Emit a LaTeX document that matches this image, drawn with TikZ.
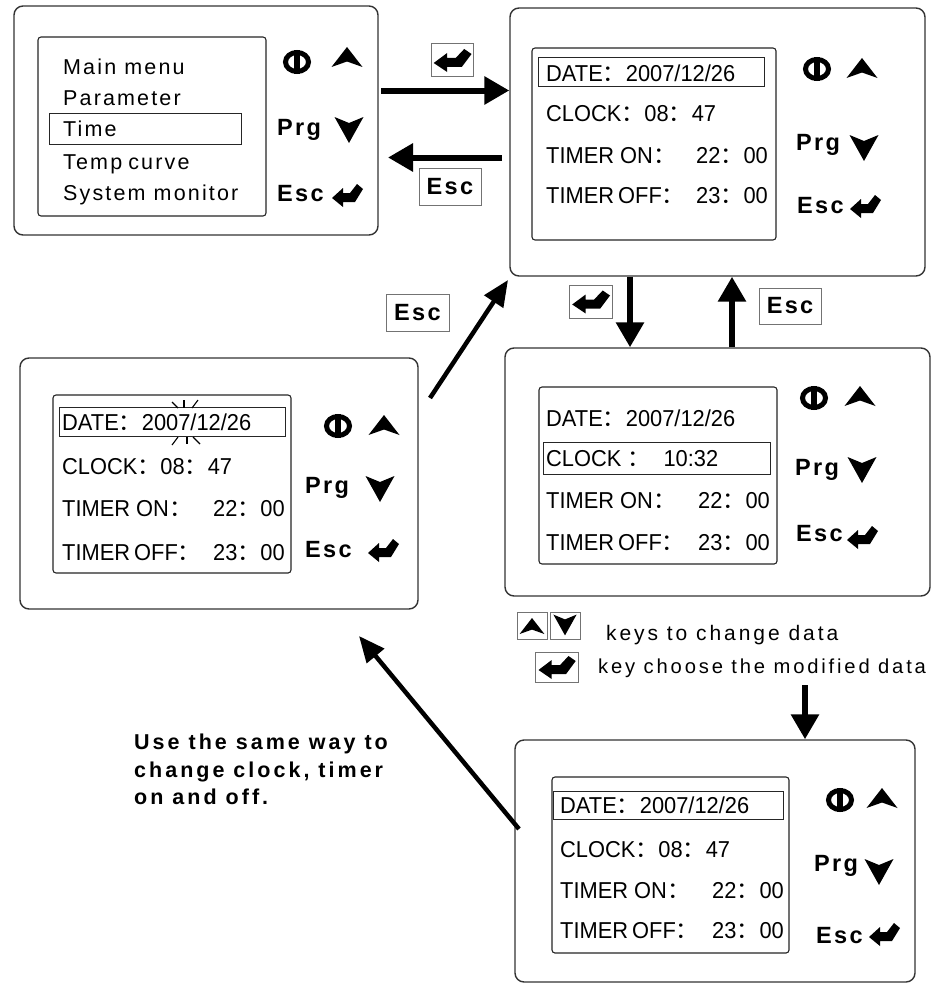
\documentclass[tikz,border=0pt]{standalone}
\usepackage{fontspec}
\setmainfont{Liberation Sans}
\newfontfamily\spfont[LetterSpace=10]{Liberation Sans}
\newfontfamily\spfontb[LetterSpace=14]{Liberation Sans}
\newfontfamily\scrfont[FakeStretch=0.95]{Liberation Sans}
\newfontfamily\cjk{Noto Sans CJK SC}
\usetikzlibrary{arrows.meta}
\newcommand{\fcolon}{{\cjk ：}}
\tikzset{
 powicon/.pic={\draw[line width=5pt] (0,0) ellipse[x radius=11.5, y radius=9.5];
   \fill (-3.2,-12) rectangle (3.2,12);},
 upicon/.pic={\fill (0,-10) -- (15.5,10) -- (0,4.5) -- (-15.5,10) -- cycle;},
 dnicon/.pic={\fill (0,13) -- (14.5,-13) -- (0,-7) -- (-14.5,-13) -- cycle;},
 enticon/.pic={\fill (-15,2) -- (-4,-8) -- (-4,-3) -- (3,-3) -- (10,-12) -- (16,-7)
   -- (8,6) -- (-4,6) -- (-4,11) -- cycle;},
}
\begin{document}
\begin{tikzpicture}[x=1pt,y=-1pt,
 panel/.style={draw=black!80, line width=1.4pt, rounded corners=9pt, inner sep=0pt},
 screen/.style={draw=black!85, line width=1.1pt, rounded corners=3pt, inner sep=0pt},
 hbox/.style={draw=black!85, line width=1pt, inner sep=0pt},
 keybox/.style={draw=black!55, line width=1pt, inner sep=0pt, fill=white},
 tone/.style={font=\spfont\fontsize{21.5}{23}\selectfont, inner sep=0pt, anchor=base west},
 tleg/.style={font=\spfontb\fontsize{21}{23}\selectfont, inner sep=0pt, anchor=base west},
 tscr/.style={font=\scrfont\fontsize{23}{25}\selectfont, inner sep=0pt, anchor=base west},
 tscrr/.style={tscr, anchor=base east},
 klbl/.style={font=\spfont\bfseries\fontsize{23.5}{25}\selectfont, inner sep=0pt, anchor=base west},
 kesc/.style={keybox, font=\spfont\bfseries\fontsize{23.5}{25}\selectfont},
 note/.style={font=\spfontb\bfseries\fontsize{21.5}{23}\selectfont, inner sep=0pt, anchor=base west},
 bigarrow/.style={line width=6pt, -{Triangle[length=25pt,width=27pt]}},
 thinarrow/.style={line width=4.5pt, -{Triangle[length=26pt,width=22pt]}},
 spark/.style={line width=1.1pt},
]
\useasboundingbox[fill=white] (0,0) rectangle (937,990);

% ---------- Panel 1 ----------
\node[panel, minimum width=364pt, minimum height=229pt] (p1) at (196,120.5) {};
\node[screen, minimum width=228pt, minimum height=179pt] (s1) at (152,126.5) {};
\node[hbox, minimum width=192pt, minimum height=31pt] (h1) at (145,128.5) {};
\node[tone] (m1) at (63,74.5) {Main menu};
\node[tone] (m2) at (63,105.5) {Parameter};
\node[tone] (m3) at (63,136.5) {Time};
\node[tone] (m4) at (63,169.5) {Temp\kern-2pt\ curve};
\node[tone] (m5) at (63,200.5) {System monitor};
\pic at (297,62) {powicon};
\pic at (347,57) {upicon};
\node[klbl] (prg1) at (277,135) {Prg};
\pic at (349,130) {dnicon};
\node[klbl] (esc1) at (277,201) {Esc};
\pic at (347,196) {enticon};

% ---------- Panel 2 ----------
\node[panel, minimum width=415pt, minimum height=268pt] (p2) at (717.5,142) {};
\node[screen, minimum width=244pt, minimum height=192pt] (s2) at (654,144) {};
\node[hbox, minimum width=226pt, minimum height=28pt] (h2) at (651,72) {};
\node[tscr] (d2) at (546,81.5) {DATE\fcolon 2007/12/26};
\node[tscr] (c2) at (546,121.5) {CLOCK\fcolon 08\fcolon 47};
\node[tscr] (on2) at (546,163.5) {TIMER ON\fcolon};
\node[tscrr] (on2v) at (768,163.5) {22\fcolon 00};
\node[tscr] (off2) at (546,203.5) {TIMER\kern4pt OFF\fcolon};
\node[tscrr] (off2v) at (768,203.5) {23\fcolon 00};
\pic at (817,69) {powicon};
\pic at (862,68) {upicon};
\node[klbl] (prg2) at (796,150) {Prg};
\pic at (864,148) {dnicon};
\node[klbl] (esc2) at (797,213) {Esc};
\pic at (865,207) {enticon};

% ---------- Panel 3 ----------
\node[panel, minimum width=425pt, minimum height=248pt] (p3) at (717.5,472) {};
\node[screen, minimum width=238pt, minimum height=177pt] (s3) at (658,475.5) {};
\node[hbox, minimum width=227pt, minimum height=32pt] (h3) at (656.5,458) {};
\node[tscr] (d3) at (546,426.5) {DATE\fcolon 2007/12/26};
\node[tscr] (c3) at (546,466.5) {CLOCK \fcolon\kern13pt 10:32};
\node[tscr] (on3) at (546,508.5) {TIMER ON\fcolon};
\node[tscrr] (on3v) at (770,508.5) {22\fcolon 00};
\node[tscr] (off3) at (546,550.5) {TIMER\kern4pt OFF\fcolon};
\node[tscrr] (off3v) at (770,550.5) {23\fcolon 00};
\pic at (814,398) {powicon};
\pic at (860,396) {upicon};
\node[klbl] (prg3) at (795,475) {Prg};
\pic at (862,470) {dnicon};
\node[klbl] (esc3) at (796,541) {Esc};
\pic at (862,538) {enticon};

% ---------- Panel 4 ----------
\node[panel, minimum width=398pt, minimum height=251pt] (p4) at (219,483.5) {};
\node[screen, minimum width=238pt, minimum height=178pt] (s4) at (172,484) {};
\node[hbox, minimum width=226pt, minimum height=29pt] (h4) at (172,421.5) {};
\node[tscr] (d4) at (62,430.5) {DATE\fcolon 2007/12/26};
\node[tscr] (c4) at (62,474.5) {CLOCK\fcolon 08\fcolon 47};
\node[tscr] (on4) at (62,516.5) {TIMER ON\fcolon};
\node[tscrr] (on4v) at (285,516.5) {22\fcolon 00};
\node[tscr] (off4) at (62,560.5) {TIMER\kern4pt OFF\fcolon};
\node[tscrr] (off4v) at (285,560.5) {23\fcolon 00};
\draw[spark] (172,402) -- (178,408);
\draw[spark] (184,400) -- (184,408);
\draw[spark] (198,400) -- (192,408);
\draw[spark] (172,445) -- (178,437);
\draw[spark] (187,437) -- (187,444);
\draw[spark] (193,437) -- (200,444);
\pic at (338,426) {powicon};
\pic at (384,425) {upicon};
\node[klbl] (prg4) at (305,493) {Prg};
\pic at (380,489) {dnicon};
\node[klbl] (esc4) at (305,557) {Esc};
\pic at (383,551) {enticon};

% ---------- Panel 5 ----------
\node[panel, minimum width=400pt, minimum height=242pt] (p5) at (715,861) {};
\node[screen, minimum width=237pt, minimum height=176pt] (s5) at (670.5,865) {};
\node[hbox, minimum width=230pt, minimum height=28pt] (h5) at (668,805) {};
\node[tscr] (d5) at (560,813.5) {DATE\fcolon 2007/12/26};
\node[tscr] (c5) at (560,857.5) {CLOCK\fcolon 08\fcolon 47};
\node[tscr] (on5) at (560,898.5) {TIMER ON\fcolon};
\node[tscrr] (on5v) at (784,898.5) {22\fcolon 00};
\node[tscr] (off5) at (560,938.5) {TIMER\kern4pt OFF\fcolon};
\node[tscrr] (off5v) at (784,938.5) {23\fcolon 00};
\pic at (840,800) {powicon};
\pic at (882,798) {upicon};
\node[klbl] (prg5) at (814,871) {Prg};
\pic at (879,872) {dnicon};
\node[klbl] (esc5) at (816,943) {Esc};
\pic at (884,935) {enticon};

% ---------- Key boxes ----------
\node[keybox, minimum width=42pt, minimum height=32pt] (k1) at (452,60) {};
\pic[xscale=1.22] at (452,61) {enticon};
\node[kesc, minimum width=62pt, minimum height=37pt] (k2) at (450,186.5) {Esc};
\node[keybox, minimum width=43pt, minimum height=33pt] (k3) at (590.5,301.5) {};
\pic[xscale=1.22] at (590.5,302.5) {enticon};
\node[kesc, minimum width=62pt, minimum height=36pt] (k4) at (790,306) {Esc};
\node[kesc, minimum width=63pt, minimum height=37pt] (k5) at (417.5,312.5) {Esc};

% ---------- Legend ----------
\node[keybox, minimum width=30pt, minimum height=27pt] (l1) at (532,625.5) {};
\pic[scale=0.8] at (532,626) {upicon};
\node[keybox, minimum width=30pt, minimum height=27pt] (l2) at (565,625.5) {};
\pic[scale=0.8] at (565,625) {dnicon};
\node[tleg] (lt1) at (606,640) {keys to change data};
\node[keybox, minimum width=43pt, minimum height=30pt] (l3) at (556.5,667) {};
\pic[xscale=1.2] at (556.5,668) {enticon};
\node[tleg, font=\spfontb\fontsize{20.2}{22}\selectfont] (lt2) at (598,673) {key choose the modified data};

% ---------- Note ----------
\node[note] (n1) at (134,749.5) {Use the same way to};
\node[note] (n2) at (134,777.5) {change clock, timer};
\node[note] (n3) at (134,804.5) {on and off.};

% ---------- Arrows ----------
\coordinate (a1s) at (381,90.5);
\draw[bigarrow] (a1s) -- (a1s -| p2.west);
\coordinate (a2s) at (502,157.5);
\coordinate (a2e) at (388,157.5);
\draw[bigarrow] (a2s) -- (a2e);
\coordinate (a3x) at (630,0);
\draw[bigarrow] (a3x |- p2.south) -- (a3x |- p3.north);
\coordinate (a4x) at (732,0);
\draw[bigarrow] (a4x |- p3.north) -- (a4x |- p2.south);
\coordinate (a5s) at (430,398);
\coordinate (a5e) at (508,280);
\draw[thinarrow] (a5s) -- (a5e);
\coordinate (a6s) at (805,685);
\draw[bigarrow] (a6s) -- (a6s |- p5.north);
\coordinate (a7s) at (519,829);
\coordinate (a7e) at (359,636);
\draw[thinarrow] (a7s) -- (a7e);
\end{tikzpicture}
\end{document}
